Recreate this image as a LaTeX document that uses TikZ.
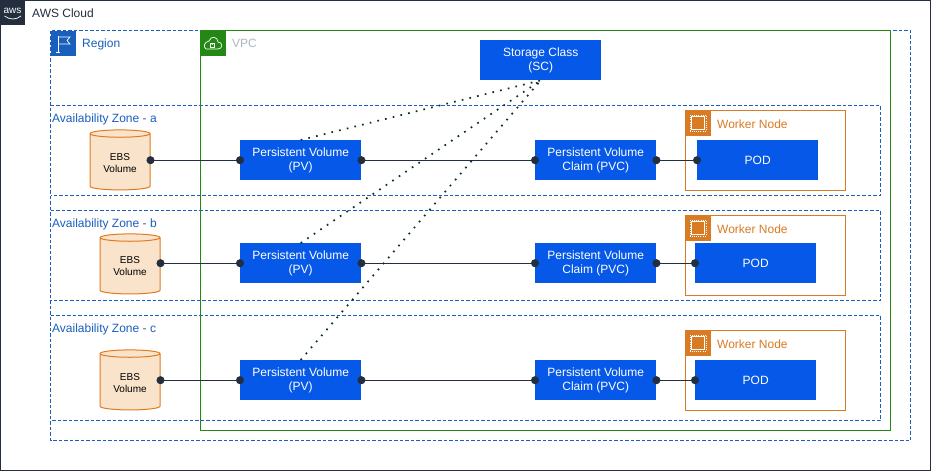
\documentclass[tikz,border=0pt]{standalone}
\usepackage{fontspec}
\setmainfont{Liberation Sans}
\usetikzlibrary{shapes.geometric,arrows.meta}
\definecolor{awsdark}{HTML}{232F3E}
\definecolor{regblue}{HTML}{1A5FBD}
\definecolor{vpcgreen}{HTML}{248814}
\definecolor{wkorange}{HTML}{D97B24}
\definecolor{boxblue}{HTML}{0558E8}
\definecolor{ebsfill}{HTML}{FAE3CB}
\definecolor{ebsline}{HTML}{E07B1F}
\definecolor{vpcgrey}{HTML}{AAB7C4}
\definecolor{dotdark}{HTML}{0A3320}
\newcommand{\ebsspace}{\phantom{\shortstack{EBS\\Volume}}}
\tikzset{
  bluebox/.style={anchor=north west,fill=boxblue,text=white,minimum width=121pt,minimum height=40pt,inner sep=0pt,align=center,font=\fontsize{12}{14.5}\selectfont},
  zonebox/.style={draw=regblue,line width=1pt,dash pattern=on 3.5pt off 2pt},
  workerbox/.style={draw=wkorange,line width=1pt},
  ebs/.style={cylinder,shape border rotate=90,aspect=0.22,draw=ebsline,fill=ebsfill,line width=1pt,minimum width=60pt,minimum height=60pt,inner sep=0pt,anchor=center,font=\fontsize{10}{12.5}\selectfont},
  ebstext/.style={inner sep=0pt,align=center,font=\fontsize{10}{12.5}\selectfont},
  link/.style={draw=awsdark,line width=1pt,{Circle[length=8pt,width=8pt]}-{Circle[length=8pt,width=8pt]},shorten <=-4pt,shorten >=-4pt},
  dotlink/.style={draw=dotdark,line width=1.7pt,dash pattern=on 1.7pt off 6.2pt},
  lab/.style={anchor=west,inner sep=0pt,font=\fontsize{12}{14}\selectfont},
  iconline/.style={draw=white,line width=0.7pt}
}
\begin{document}
\begin{tikzpicture}[x=1pt,y=-1pt]
\useasboundingbox (0,0) rectangle (931,471);
\fill[white] (0,0) rectangle (931,471);
% cloud
\draw[awsdark,line width=1pt] (0.5,0.5) rectangle (930.5,470.5);
\fill[awsdark] (0,0) rectangle (25,25);
\node[inner sep=0pt,text=white,font=\fontsize{10}{10}\selectfont] (awslogo) at (12.5,10.5) {aws};
\draw[white,line width=0.7pt] (4.5,16) .. controls (10,20) and (16,20) .. (21,16);
\node[lab,text=awsdark] (cloudlab) at (32,13.5) {AWS Cloud};
% region
\draw[zonebox] (50.5,30.5) rectangle (910.5,440.5);
\fill[regblue] (50.5,30.5) rectangle (75.5,55.5);
\draw[iconline] (58,36) -- (58,52) (56,52) -- (60,52);
\draw[iconline] (58,37) -- (70,37) -- (67,40.5) -- (70,44) -- (58,44);
\node[lab,text=regblue] (regionlab) at (82,44.5) {Region};
% zones (their left edges coincide with the region's)
\draw[zonebox] (50.5,105.5) -- (880.5,105.5) -- (880.5,195.5) -- (50.5,195.5);
\draw[zonebox] (50.5,210.5) -- (880.5,210.5) -- (880.5,300.5) -- (50.5,300.5);
\draw[zonebox] (50.5,315.5) -- (880.5,315.5) -- (880.5,420.5) -- (50.5,420.5);
\node[lab,text=regblue] (za) at (52,119) {Availability Zone - a};
\node[lab,text=regblue] (zb) at (52,224) {Availability Zone - b};
\node[lab,text=regblue] (zc) at (52,329) {Availability Zone - c};
% vpc
\draw[vpcgreen,line width=1pt] (200.5,30.5) rectangle (890.5,430.5);
\fill[vpcgreen] (200.5,30.5) rectangle (225.5,55.5);
\draw[iconline] (206,49) -- (218,49) .. controls (223,49) and (223,42) .. (218,42) .. controls (218,37) and (211,35) .. (209,41) .. controls (204,42) and (203,47) .. (206,49);
\draw[iconline,line width=0.6pt] (210.5,43.5) rectangle (214.5,47);
\draw[iconline,line width=0.5pt] (211.5,43.5) arc[start angle=180,end angle=0,radius=1];
\node[lab,text=vpcgrey] (vpclab) at (232,43.5) {VPC};
% workers
\foreach \wy/\wn in {110/a,215/b,330/c}{
  \draw[workerbox] (685.5,\wy+0.5) rectangle (845.5,\wy+80.5);
  \fill[wkorange] (685.5,\wy+0.5) rectangle (710.5,\wy+25.5);
  \draw[iconline] (691.5,\wy+6.5) rectangle (704.5,\wy+19.5);
  \draw[white,line width=0.8pt,dash pattern=on 0.7pt off 1.5pt] (690,\wy+5) rectangle (706,\wy+21);
  \node[lab,text=wkorange] (wl\wn) at (717,\wy+14) {Worker Node};
}
% boxes
\node[bluebox] (sc) at (480,40) {Storage Class\\(SC)};
\node[bluebox] (pva) at (240,140) {Persistent Volume\\(PV)};
\node[bluebox] (pvb) at (240,243) {Persistent Volume\\(PV)};
\node[bluebox] (pvc) at (240,360) {Persistent Volume\\(PV)};
\node[bluebox] (pvca) at (535,140) {Persistent Volume\\Claim (PVC)};
\node[bluebox] (pvcb) at (535,243) {Persistent Volume\\Claim (PVC)};
\node[bluebox] (pvcc) at (535,360) {Persistent Volume\\Claim (PVC)};
\node[bluebox] (poda) at (697,140) {POD};
\node[bluebox] (podb) at (695,243) {POD};
\node[bluebox] (podc) at (695,360) {POD};
% ebs
\node[ebs] (ebsa) at (120,162) {\ebsspace};
\node[ebs] (ebsb) at (130,266) {\ebsspace};
\node[ebs] (ebsc) at (130,382) {\ebsspace};
\node[ebstext] (ebsta) at (120,163) {EBS\\Volume};
\node[ebstext] (ebstb) at (130,266) {EBS\\Volume};
\node[ebstext] (ebstc) at (130,383) {EBS\\Volume};
% links
\foreach \r in {a,b,c}{
  \draw[link] (ebs\r.east |- pv\r.west) -- (pv\r.west);
  \draw[link] (pv\r.east) -- (pvc\r.west);
  \draw[link] (pvc\r.east) -- (pod\r.west);
}
\draw[dotlink] (pva.north) -- (sc.south);
\draw[dotlink] (pvb.north) -- (sc.south);
\draw[dotlink] (pvc.north) -- (sc.south);
\end{tikzpicture}
\end{document}
